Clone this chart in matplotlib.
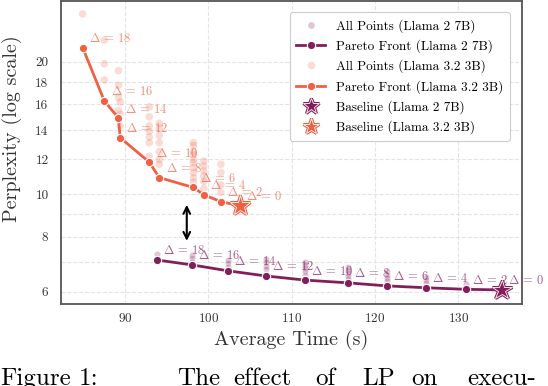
import matplotlib
matplotlib.use("Agg")
import matplotlib.pyplot as plt
import matplotlib.patheffects as pe
from matplotlib.lines import Line2D
import seaborn as sns

plt.rcParams['font.family'] = 'serif'
plt.rcParams['font.serif'] = ['cmr10', 'DejaVu Serif']
plt.rcParams['mathtext.fontset'] = 'cm'
plt.rcParams['axes.formatter.use_mathtext'] = True
plt.rcParams['axes.unicode_minus'] = False

# ---------------- data ----------------
deltas = [18, 16, 14, 12, 10, 8, 6, 4, 2, 0]

# Llama 2 7B
l2_pareto_x = [93.8, 98.0, 102.3, 106.9, 111.6, 116.7, 121.4, 126.1, 130.9]
l2_pareto_y = [7.09, 6.91, 6.70, 6.52, 6.38, 6.29, 6.19, 6.13, 6.08]
l2_base_x = 135.2
l2_base_y = 6.06
l2_all_x = [93.8, 98.0, 98.0, 98.0, 102.3, 102.3, 102.3,
            106.9, 106.9, 106.9, 106.9,
            111.6, 111.6, 111.6, 111.6, 111.6,
            116.7, 116.7, 116.7, 116.7, 116.7,
            121.4, 121.4, 121.4, 121.4,
            126.1, 126.1, 126.1, 130.9]
l2_all_y = [7.32, 7.28, 7.16, 7.03, 7.09, 6.97, 6.85,
            7.12, 7.00, 6.88, 6.76,
            7.03, 6.91, 6.79, 6.68, 6.56,
            6.85, 6.74, 6.62, 6.51, 6.41,
            6.68, 6.56, 6.46, 6.36,
            6.48, 6.37, 6.27, 6.24]

# Llama 3.2 3B
l3_pareto_x = [84.9, 87.5, 89.2, 89.4, 92.9, 94.1, 98.2, 99.45, 101.5]
l3_pareto_y = [21.55, 16.3, 14.9, 13.45, 11.83, 10.91, 10.36, 9.97, 9.62]
l3_base_x = 103.8
l3_base_y = 9.42
l3_all_x = [84.9,
            87.5, 87.5, 87.5,
            89.2, 89.2, 89.2, 89.2,
            89.4, 89.4, 89.4,
            92.9, 92.9, 92.9, 92.9, 92.9, 92.9, 92.9,
            94.1, 94.1, 94.1, 94.1, 94.1, 94.1, 94.1,
            98.2, 98.2, 98.2, 98.2, 98.2, 98.2, 98.2, 98.2, 98.2, 98.2,
            99.45, 99.45, 99.45, 99.45, 99.45, 99.45,
            101.5, 101.5, 101.5, 101.5,
            103.8]
l3_all_y = [25.7,
            22.4, 19.8, 18.2,
            19.1, 17.7, 16.6, 15.5,
            16.2, 15.2, 14.3,
            15.8, 15.0, 14.3, 13.9, 13.5, 13.1, 12.2,
            14.5, 14.1, 13.6, 13.1, 12.5, 12.0, 11.7,
            13.1, 12.9, 12.5, 12.3, 12.0, 11.8, 11.5, 11.2, 10.9, 10.65,
            11.9, 11.6, 11.3, 11.0, 10.7, 10.3,
            11.7, 11.2, 10.5, 10.1,
            9.55]

y_ticks = [6, 7, 8, 9, 10, 12, 14, 16, 18, 20]
y_labels = ['6', '', '8', '', '10', '12', '14', '16', '18', '20']
x_ticks = [90, 100, 110, 120, 130]

# ---------------- style ----------------
c2, c3 = sns.color_palette("rocket", 2)

fig = plt.figure(figsize=(5.48, 3.86), dpi=100)
ax = fig.add_axes([61 / 548, (386 - 304) / 386, 461 / 548, 303 / 386])
ax.set_yscale('log')

ax.scatter(l2_all_x, l2_all_y, s=20, color=c2, alpha=0.25, edgecolors='white',
           linewidths=0.5, zorder=2)
ax.plot(l2_pareto_x + [l2_base_x], l2_pareto_y + [l2_base_y], '-o', color=c2, lw=2,
        ms=6, mec='white', mew=0.8, zorder=3)
ax.scatter(l3_all_x, l3_all_y, s=30, color=c3, alpha=0.22, edgecolors='none', zorder=2)
ax.plot(l3_pareto_x + [l3_base_x], l3_pareto_y + [l3_base_y], '-o', color=c3, lw=2,
        ms=6, mec='white', mew=0.8, zorder=3)

star_pe = lambda c: [pe.Stroke(linewidth=2.2, foreground=c), pe.Normal()]
ax.plot([l2_base_x], [l2_base_y], ls='none', marker='*', ms=15, color=c2, mec='white',
        mew=0.6, path_effects=star_pe(c2), zorder=5)
ax.plot([l3_base_x], [l3_base_y], ls='none', marker='*', ms=15, color=c3, mec='white',
        mew=0.6, path_effects=star_pe(c3), zorder=5)

for xs, ys, c in [(l2_pareto_x + [l2_base_x], l2_pareto_y + [l2_base_y], c2),
                  (l3_pareto_x + [l3_base_x], l3_pareto_y + [l3_base_y], c3)]:
    for x, y, d in zip(xs, ys, deltas):
        ax.annotate(r'$\Delta$ = %d' % d, (x, y), xytext=(4.5, 6.5),
                    textcoords='offset points', ha='left', va='center',
                    fontsize=9, color=c, alpha=0.7, zorder=4)

ax.annotate('', xy=(97.4, 9.6), xytext=(97.4, 7.72),
            arrowprops=dict(arrowstyle='<->', color='black', lw=1.5,
                            mutation_scale=12))

ax.set_xlim(82.3, 137.65)
ax.set_ylim(5.63, 27.5)
ax.set_yticks(y_ticks)
ax.set_yticklabels(y_labels)
ax.yaxis.set_minor_locator(matplotlib.ticker.NullLocator())
ax.set_xticks(x_ticks)
ax.tick_params(axis='both', which='both', length=0, labelsize=9.5, pad=6,
               colors='#333333')
ax.tick_params(axis='y', pad=9)
ax.grid(True, which='major', ls='--', lw=0.8, color='#e4e4e4')
ax.set_axisbelow(True)
for s in ax.spines.values():
    s.set_color('#555555')
    s.set_linewidth(1.3)

ax.set_xlabel('Average Time (s)', fontsize=14.5, color='#333333', labelpad=3)
ax.set_ylabel('Perplexity (log scale)', fontsize=14.5, color='#333333')
ax.yaxis.set_label_coords(-0.085, 0.58)

handles = [
    Line2D([], [], ls='none', marker='o', ms=5, color=c2, alpha=0.25, mec='white', mew=0.5),
    Line2D([], [], ls='-', lw=2, marker='o', ms=6, color=c2, mec='white', mew=0.8),
    Line2D([], [], ls='none', marker='o', ms=5.5, color=c3, alpha=0.22, mec='none'),
    Line2D([], [], ls='-', lw=2, marker='o', ms=6, color=c3, mec='white', mew=0.8),
    Line2D([], [], ls='none', marker='*', ms=12, color=c2, mec='white', mew=0.6,
           path_effects=star_pe(c2)),
    Line2D([], [], ls='none', marker='*', ms=12, color=c3, mec='white', mew=0.6,
           path_effects=star_pe(c3)),
]
labels = ['All Points (Llama 2 7B)', 'Pareto Front (Llama 2 7B)',
          'All Points (Llama 3.2 3B)', 'Pareto Front (Llama 3.2 3B)',
          'Baseline (Llama 2 7B)', 'Baseline (Llama 3.2 3B)']
leg = ax.legend(handles, labels, loc='upper right', fontsize=9.5, frameon=True,
                fancybox=True, edgecolor='#cccccc', framealpha=1, borderpad=0.5,
                handlelength=2.2, labelspacing=0.5, bbox_to_anchor=(0.988, 0.985))
leg.get_frame().set_linewidth(0.8)

# caption fragment at bottom of the crop
caption = [('Figure', 0), ('1:', 79), ('The', 177), ('effect', 233), ('of', 315),
           ('LP', 362), ('on', 411), ('execu-', 467)]
for word, px in caption:
    fig.text(px / 548, 1 / 386, word, fontsize=18, ha='left', va='baseline',
             color='black')

fig.savefig('out.png', dpi=100)
